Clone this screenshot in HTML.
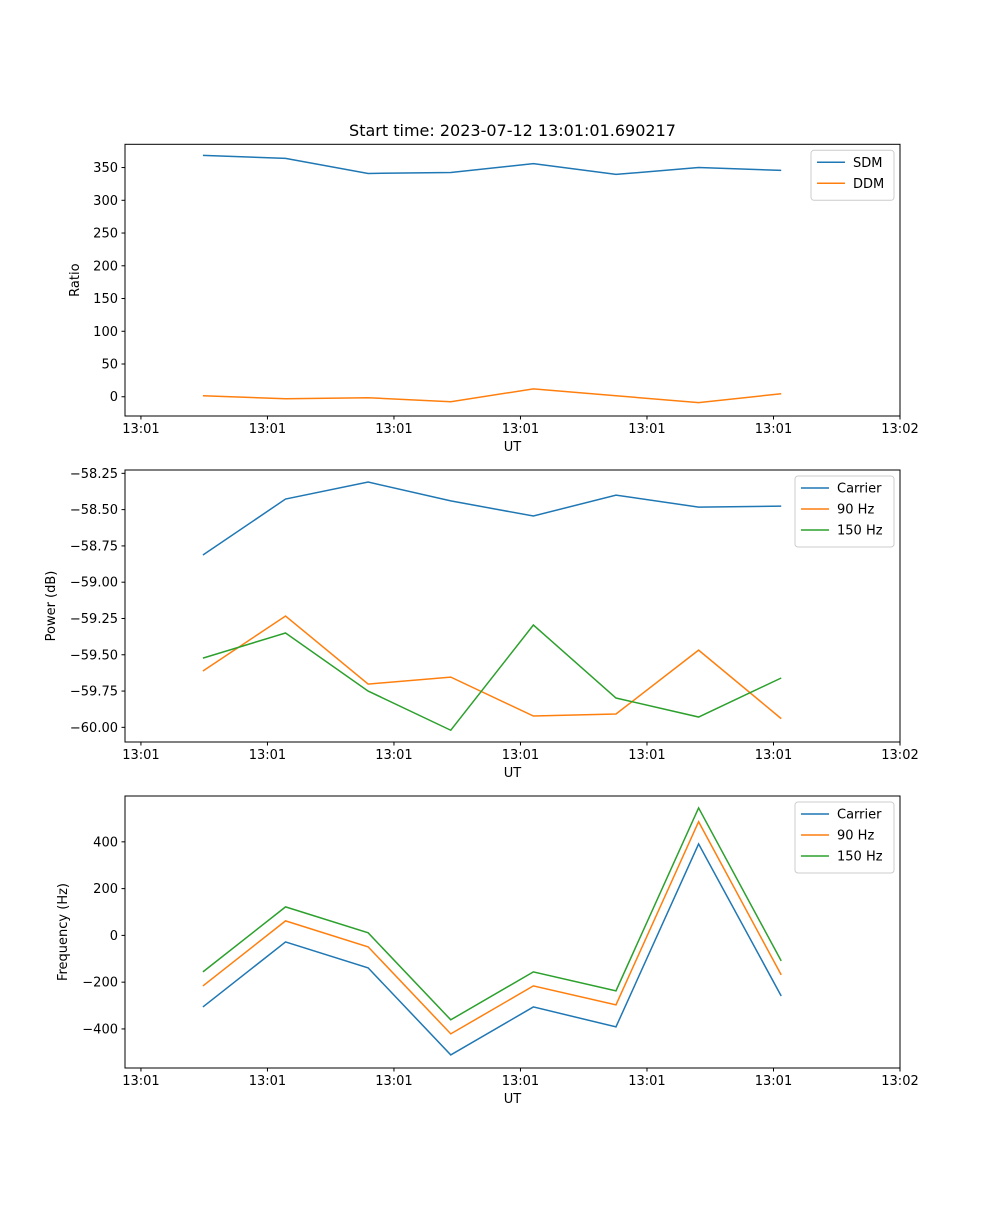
<!DOCTYPE html>
<html><head><meta charset="utf-8"><style>
body{margin:0;background:#fff;font-family:"Liberation Sans","DejaVu Sans",sans-serif}
svg text{font-family:"DejaVu Sans","Liberation Sans",sans-serif;font-size:13px;fill:#000}
</style></head><body>
<svg id="fig" width="1000" height="1200" xmlns="http://www.w3.org/2000/svg">
<rect width="1000" height="1200" fill="#fff"/>
<text x="512.5" y="136" text-anchor="middle" font-size="16" style="font-size:16px">Start time: 2023-07-12 13:01:01.690217</text>
</svg>
<script>
const times=[4.9,11.43,17.96,24.49,31.02,37.55,44.08,50.61];
const xTicks=[0,10,20,30,40,50,60];
const xTickLabels=["13:01","13:01","13:01","13:01","13:01","13:01","13:02"];
const sdm=[368.5,364,341,342.5,356,339.5,350,345.6];
const ddm=[1.5,-3,-1.5,-7.6,12,1.5,-9,4.6];
const powCarrier=[-58.813,-58.427,-58.31,-58.44,-58.544,-58.40,-58.483,-58.476];
const pow90=[-59.612,-59.233,-59.702,-59.654,-59.922,-59.908,-59.468,-59.94];
const pow150=[-59.523,-59.35,-59.75,-60.02,-59.295,-59.798,-59.929,-59.66];
const freqCarrier=[-306,-28,-139,-511,-306,-391,391,-259];
const freq90=[-216,62,-49,-421,-216,-297,486,-169];
const freq150=[-156,122,11,-361,-156,-237,545,-109];
const ratioTicks=[0,50,100,150,200,250,300,350];
const powTicks=[-60,-59.75,-59.5,-59.25,-59,-58.75,-58.5,-58.25];
const freqTicks=[-400,-200,0,200,400];

const NS="http://www.w3.org/2000/svg";
const svg=document.getElementById('fig');
function mk(tag,attrs,parent){const e=document.createElementNS(NS,tag);for(const k in attrs)e.setAttribute(k,attrs[k]);(parent||svg).appendChild(e);return e;}
const L=125,R=900;
const xS=t=>L+(t-(-1.26))/(60-(-1.26))*(R-L);

function panel(name,top,bot,ymin,ymax,ticks,fmt,ylabel,ylabelX,series,legendW){
  const g=mk('g',{});
  
  
  const yS=v=>bot-(v-ymin)/(ymax-ymin)*(bot-top);
  series.forEach(s=>{
    const p=mk('polyline',{points:s.vals.map((v,i)=>xS(times[i])+','+yS(v)).join(' '),fill:'none',stroke:s.color,'stroke-width':1.5},g);
    
    
  });
  const fr=mk('rect',{x:L,y:top,width:R-L,height:bot-top,fill:'none',stroke:'#000','stroke-width':1},g);
  
  
  xTicks.forEach((t,i)=>{
    const x=xS(t);
    mk('line',{x1:x,x2:x,y1:bot,y2:bot+3.5,stroke:'#000'},g);
    const tx=mk('text',{x:x,y:bot+17,'text-anchor':'middle'},g);tx.textContent=xTickLabels[i];
    
    
  });
  const xl=mk('text',{x:(L+R)/2,y:bot+35,'text-anchor':'middle'},g);xl.textContent='UT';
  
  
  ticks.forEach(v=>{
    const y=yS(v);
    mk('line',{x1:L-3.5,x2:L,y1:y,y2:y,stroke:'#000'},g);
    const tx=mk('text',{x:L-7,y:y+4.5,'text-anchor':'end'},g);tx.textContent=fmt(v);
    
    
  });
  const yl=mk('text',{x:ylabelX,y:(top+bot)/2,'text-anchor':'middle',transform:`rotate(-90 ${ylabelX} ${(top+bot)/2})`},g);yl.textContent=ylabel;
  
  
  const lx=R-6-legendW, ly=top+6, lh=8+series.length*21;
  const lg=mk('g',{},g);
  
  
  mk('rect',{x:lx,y:ly,width:legendW,height:lh,rx:3,fill:'#fff',stroke:'#ccc'},lg);
  series.forEach((s,i)=>{
    const cy=ly+12+i*21;
    mk('line',{x1:lx+6,x2:lx+34,y1:cy,y2:cy,stroke:s.color,'stroke-width':1.5},lg);
    const t=mk('text',{x:lx+42,y:cy+4.5},lg);t.textContent=s.label;
    
    
  });
}
const B='#1f77b4',O='#ff7f0e',G='#2ca02c';
panel('ratio',144.3,416,-29.4,385.5,ratioTicks,v=>String(v),'Ratio',79,
 [{key:'sdm',label:'SDM',vals:sdm,color:B},{key:'ddm',label:'DDM',vals:ddm,color:O}],83);
panel('power',470,742,-60.101,-58.227,powTicks,v=>'\u2212'+Math.abs(v).toFixed(2),'Power (dB)',55,
 [{key:'carrier',label:'Carrier',vals:powCarrier,color:B},{key:'90hz',label:'90 Hz',vals:pow90,color:O},{key:'150hz',label:'150 Hz',vals:pow150,color:G}],99);
panel('frequency',796,1068,-567,596,freqTicks,v=>(v<0?'\u2212':'')+Math.abs(v),'Frequency (Hz)',67,
 [{key:'carrier',label:'Carrier',vals:freqCarrier,color:B},{key:'90hz',label:'90 Hz',vals:freq90,color:O},{key:'150hz',label:'150 Hz',vals:freq150,color:G}],99);
</script>
</body></html>
